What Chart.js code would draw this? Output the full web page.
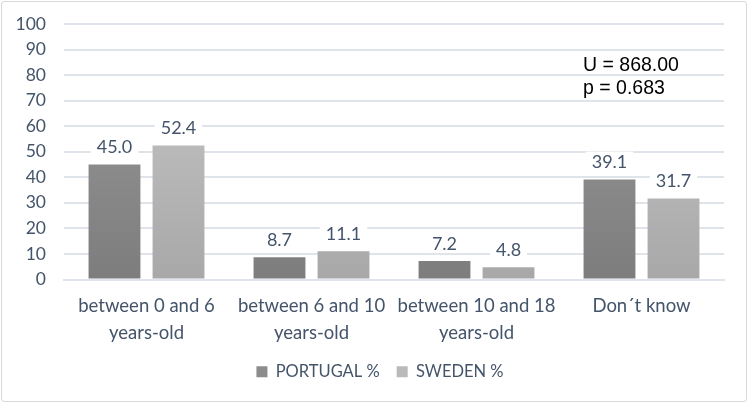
<!DOCTYPE html>
<html>
<head>
<meta charset="utf-8">
<script src="https://cdn.jsdelivr.net/npm/chart.js@4.4.1/dist/chart.umd.min.js"></script>
<style>
html,body{margin:0;padding:0;background:#fff;}
#wrap{position:absolute;left:1px;top:1px;width:746px;height:401px;border:1px solid #d9d9d9;border-radius:3px;box-sizing:border-box;}
canvas{position:absolute;left:0;top:0;}
</style>
</head>
<body>
<div id="wrap"></div>
<canvas id="c" width="750" height="406"></canvas>
<script>
const categories = [["between 0 and 6","years-old"],["between 6 and 10","years-old"],["between 10 and 18","years-old"],["Don\u00b4t know"]];
const portugal = [45.0, 8.7, 7.2, 39.1];
const sweden = [52.4, 11.1, 4.8, 31.7];
const seriesNames = ["PORTUGAL %","SWEDEN %"];
const annotationLines = ["U = 868.00","p = 0.683"];
const yTicks = {min:0, max:100, step:10};

const TEXT = '#44546A';
const FONT = 'Lato, "Open Sans", sans-serif';

function grad(top, bottom){
  return function(ctx){
    const ch = ctx.chart, a = ch.chartArea;
    if(!a) return bottom;
    const g = ch.ctx.createLinearGradient(0, a.top, 0, a.bottom);
    g.addColorStop(0, top); g.addColorStop(1, bottom);
    return g;
  };
}

const labelsPlugin = {
  id:'vlabels',
  afterLayout(chart){
    if(chart.legend){ chart.legend.left += 18; chart.legend.right += 18; }
  },
  afterDatasetsDraw(chart){
    const ctx = chart.ctx;
    ctx.save();
    ctx.font = '18px ' + FONT;
    ctx.textAlign='center'; ctx.textBaseline='middle';
    chart.data.datasets.forEach((ds,i)=>{
      chart.getDatasetMeta(i).data.forEach((bar,j)=>{
        const t = ds.data[j].toFixed(1);
        const w = ctx.measureText(t).width + 12;
        const y = bar.y - 18;
        ctx.fillStyle='#fff';
        ctx.fillRect(bar.x - w/2, y-10, w, 20);
        ctx.fillStyle=TEXT;
        ctx.fillText(t, bar.x, y+1);
      });
    });
    ctx.font = '19.5px "Liberation Sans", Arial, sans-serif';
    ctx.textAlign='left'; ctx.textBaseline='alphabetic';
    ctx.fillStyle='#000';
    ctx.fillText(annotationLines[0], 583, 71);
    ctx.fillText(annotationLines[1], 583, 94);
    ctx.restore();
  }
};

new Chart(document.getElementById('c'), {
  type:'bar',
  data:{
    labels: categories,
    datasets:[
      {label:seriesNames[0], data:portugal, backgroundColor:grad('#9b9b9b','#7d7d7d'), borderWidth:0},
      {label:seriesNames[1], data:sweden, backgroundColor:grad('#c9c9c9','#a8a8a8'), borderWidth:0}
    ]
  },
  options:{
    responsive:false,
    animation:false,
    devicePixelRatio:1,
    layout:{padding:{top:24,right:26,bottom:16,left:0}},
    datasets:{bar:{categoryPercentage:0.776, barPercentage:0.81}},
    scales:{
      y:{
        min:yTicks.min, max:yTicks.max,
        ticks:{stepSize:yTicks.step, color:TEXT, font:{family:FONT,size:17.5}, padding:18},
        grid:{color:'#dfe3ea', lineWidth:2, drawTicks:false},
        border:{display:false},
        afterFit(s){ s.width = 64; s.paddingTop = 0; s.paddingBottom = 0; }
      },
      x:{
        ticks:{color:TEXT, font:{family:FONT,size:18.5, lineHeight:1.45}, padding:13, maxRotation:0, autoSkip:false},
        grid:{display:false, drawTicks:false},
        border:{color:'#dfe3ea', width:2},
        afterFit(s){ s.height = 67; }
      }
    },
    plugins:{
      legend:{
        position:'bottom',
        labels:{color:TEXT, font:{family:FONT,size:16.5}, boxWidth:11, boxHeight:11, padding:17,
          generateLabels(chart){
            const cols=['#8c8c8c','#bababa'];
            return chart.data.datasets.map((d,i)=>({text:d.label, fillStyle:cols[i], strokeStyle:cols[i], lineWidth:0, datasetIndex:i, fontColor:TEXT}));
          }
        }
      },
      tooltip:{enabled:false}
    }
  },
  plugins:[labelsPlugin]
});
</script>
</body>
</html>
